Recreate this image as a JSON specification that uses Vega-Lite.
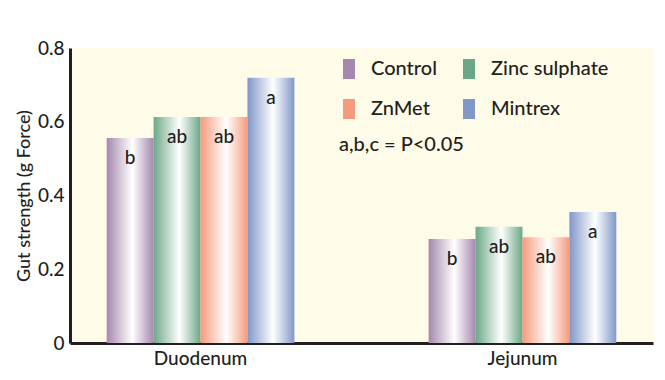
{
  "$schema": "https://vega.github.io/schema/vega-lite/v6.json",
  "width": 583,
  "height": 295,
  "autosize": {"type": "none"},
  "padding": {"left": 70, "top": 48, "right": 12, "bottom": 37},
  "background": "#ffffff",
  "config": {"view": {"fill": "#fefbe8", "stroke": null}, "font": "Lato"},
  "data": {
    "values": [
      {"segment": "Duodenum", "treatment": "Control", "value": 0.556, "sig": "b"},
      {"segment": "Duodenum", "treatment": "Zinc sulphate", "value": 0.613, "sig": "ab"},
      {"segment": "Duodenum", "treatment": "ZnMet", "value": 0.613, "sig": "ab"},
      {"segment": "Duodenum", "treatment": "Mintrex", "value": 0.719, "sig": "a"},
      {"segment": "Jejunum", "treatment": "Control", "value": 0.282, "sig": "b"},
      {"segment": "Jejunum", "treatment": "Zinc sulphate", "value": 0.315, "sig": "ab"},
      {"segment": "Jejunum", "treatment": "ZnMet", "value": 0.287, "sig": "ab"},
      {"segment": "Jejunum", "treatment": "Mintrex", "value": 0.355, "sig": "a"}
    ]
  },
  "encoding": {
    "x": {
      "field": "segment", "type": "nominal", "sort": ["Duodenum", "Jejunum"],
      "scale": {"paddingInner": 0.417, "paddingOuter": 0.114},
      "axis": {"title": null, "labelAngle": 0, "ticks": false, "domainColor": "#231f20", "domainWidth": 3, "labelFontSize": 19, "labelFontWeight": 500, "labelColor": "#231f20", "labelPadding": 6}
    },
    "xOffset": {
      "field": "treatment", "type": "nominal",
      "scale": {"domain": ["Control", "Zinc sulphate", "ZnMet", "Mintrex"], "paddingInner": 0, "paddingOuter": 0}
    },
    "y": {
      "field": "value", "type": "quantitative",
      "scale": {"domain": [0, 0.8], "nice": false},
      "axis": {
        "values": [0, 0.2, 0.4, 0.6, 0.8], "grid": false, "ticks": false,
        "labelExpr": "datum.value === 0 ? '0' : format(datum.value, '.1f')",
        "domainColor": "#231f20", "domainWidth": 3, "labelFontSize": 19, "labelFontWeight": 500, "labelColor": "#231f20", "labelPadding": 6,
        "title": "Gut strength (g Force)", "titleFontSize": 18, "titleFontWeight": 500, "titleColor": "#231f20", "titlePadding": 4
      }
    }
  },
  "layer": [
    {
      "mark": {"type": "bar", "strokeWidth": 0},
      "encoding": {
        "fill": {
          "field": "treatment", "type": "nominal",
          "scale": {"domain": ["Control", "ZnMet", "Zinc sulphate", "Mintrex"], "range": ["#a588ad", "#f59b7d", "#6ca887", "#8097c8"]},
          "condition": [
            {"test": "datum.treatment === 'Control'", "value": {"gradient": "linear", "x1": 0, "x2": 1, "y1": 0, "y2": 0, "stops": [{"offset": 0, "color": "#a588ad"}, {"offset": 0.55, "color": "#ffffff"}, {"offset": 1, "color": "#a588ad"}]}},
            {"test": "datum.treatment === 'Zinc sulphate'", "value": {"gradient": "linear", "x1": 0, "x2": 1, "y1": 0, "y2": 0, "stops": [{"offset": 0, "color": "#6ca887"}, {"offset": 0.55, "color": "#ffffff"}, {"offset": 1, "color": "#6ca887"}]}},
            {"test": "datum.treatment === 'ZnMet'", "value": {"gradient": "linear", "x1": 0, "x2": 1, "y1": 0, "y2": 0, "stops": [{"offset": 0, "color": "#f59b7d"}, {"offset": 0.55, "color": "#ffffff"}, {"offset": 1, "color": "#f59b7d"}]}},
            {"test": "datum.treatment === 'Mintrex'", "value": {"gradient": "linear", "x1": 0, "x2": 1, "y1": 0, "y2": 0, "stops": [{"offset": 0, "color": "#8097c8"}, {"offset": 0.55, "color": "#ffffff"}, {"offset": 1, "color": "#8097c8"}]}}
          ],
          "legend": {
            "orient": "none", "legendX": 269, "legendY": 11, "columns": 2, "padding": 0,
            "symbolType": "M-0.6,-1H0.6V1H-0.6Z", "symbolSize": 400, "symbolStrokeWidth": 0,
            "labelFontSize": 20, "labelFontWeight": 500, "labelColor": "#231f20", "labelOffset": 12,
            "columnPadding": 22, "rowPadding": 20,
            "title": "a,b,c = P<0.05", "titleOrient": "bottom", "titleFontSize": 20, "titleFontWeight": 500,
            "titleColor": "#231f20", "titlePadding": 16, "titleAnchor": "start",
            "encode": {
              "symbols": {
                "update": {
                  "fill": [
                    {"test": "datum.value === 'Control'", "value": {"gradient": "linear", "x1": 0, "x2": 1, "y1": 0, "y2": 0, "stops": [{"offset": 0, "color": "#a588ad"}, {"offset": 0.55, "color": "#ffffff"}, {"offset": 1, "color": "#a588ad"}]}},
                    {"test": "datum.value === 'Zinc sulphate'", "value": {"gradient": "linear", "x1": 0, "x2": 1, "y1": 0, "y2": 0, "stops": [{"offset": 0, "color": "#6ca887"}, {"offset": 0.55, "color": "#ffffff"}, {"offset": 1, "color": "#6ca887"}]}},
                    {"test": "datum.value === 'ZnMet'", "value": {"gradient": "linear", "x1": 0, "x2": 1, "y1": 0, "y2": 0, "stops": [{"offset": 0, "color": "#f59b7d"}, {"offset": 0.55, "color": "#ffffff"}, {"offset": 1, "color": "#f59b7d"}]}},
                    {"value": {"gradient": "linear", "x1": 0, "x2": 1, "y1": 0, "y2": 0, "stops": [{"offset": 0, "color": "#8097c8"}, {"offset": 0.55, "color": "#ffffff"}, {"offset": 1, "color": "#8097c8"}]}}
                  ],
                  "opacity": {"value": 1}
                }
              }
            }
          }
        }
      }
    },
    {
      "mark": {"type": "text", "baseline": "middle", "dy": 20, "fontSize": 19, "fontWeight": 500, "color": "#231f20"},
      "encoding": {"text": {"field": "sig"}}
    }
  ]
}
